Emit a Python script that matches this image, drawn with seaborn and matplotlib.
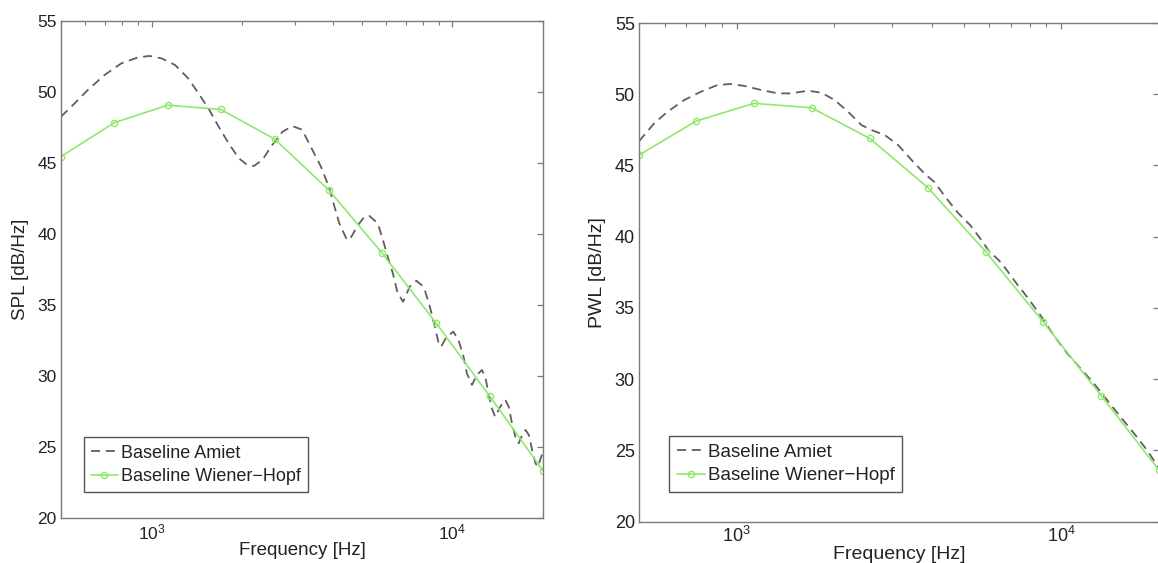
import seaborn as sns
import pandas as pd
import matplotlib.pyplot as plt
from matplotlib.ticker import LogLocator, LogFormatterSciNotation, NullFormatter

# Wiener-Hopf band centres (Hz), shared by both panels
wh_freq = [500, 750, 1130, 1700, 2570, 3880, 5850, 8810, 13300, 20000]
spl_wh = [45.45, 47.83, 49.07, 48.77, 46.67, 43.10, 38.63, 33.75, 28.58, 23.33]
pwl_wh = [45.73, 48.12, 49.36, 49.05, 46.90, 43.45, 38.95, 34.00, 28.82, 23.62]

# Amiet curve, SPL panel
spl_amiet_freq = [500, 555, 614, 698, 794, 902, 986, 1079, 1197, 1324,
                  1432, 1545, 1671, 1803, 1950, 2080, 2188, 2333, 2518, 2723,
                  2938, 3162, 3381, 3656, 3899, 4055, 4207, 4436, 4550, 4853,
                  5105, 5297, 5649, 5875, 6095, 6339, 6577, 6855, 7211, 7586,
                  7889, 8091, 8414, 8710, 8974, 9162, 9572, 10069, 10471, 10889,
                  11169, 11614, 12050, 12531, 12853, 13183, 13521, 13868, 14421, 14997,
                  15382, 15776, 16181, 16596, 17061, 17498, 17947, 18408, 18880, 19231,
                  19907, 20000]
spl_amiet = [48.26, 49.20, 50.14, 51.20, 52.02, 52.44, 52.54, 52.37, 51.90, 50.96,
             49.90, 48.85, 47.56, 46.39, 45.33, 44.86, 44.79, 45.21, 46.27, 47.20,
             47.60, 47.35, 46.15, 44.74, 43.22, 41.92, 40.75, 39.70, 39.58, 40.63,
             41.22, 41.27, 40.75, 39.58, 38.40, 37.23, 35.82, 35.23, 36.29, 36.71,
             36.41, 36.06, 34.88, 33.60, 32.42, 32.06, 32.77, 33.12, 32.54, 31.36,
             30.19, 29.37, 30.07, 30.42, 29.95, 28.78, 27.72, 27.13, 27.84, 28.31,
             27.84, 26.67, 25.73, 25.26, 25.85, 26.20, 25.85, 24.79, 23.85, 23.61,
             24.56, 24.50]

# Amiet curve, PWL panel
pwl_amiet_freq = [500, 557, 612, 689, 776, 873, 962, 1057, 1189, 1340,
                  1472, 1656, 1824, 2004, 2203, 2421, 2600, 2858, 3141, 3459,
                  3802, 4083, 4385, 4819, 5236, 5623, 5957, 6561, 7211, 7834,
                  8610, 9462, 10423, 11455, 12589, 13836, 15205, 16749, 18408, 20000]
pwl_amiet = [46.70, 47.96, 48.77, 49.59, 50.18, 50.65, 50.72, 50.58, 50.30, 50.06,
             50.06, 50.25, 50.11, 49.59, 48.77, 47.84, 47.49, 47.14, 46.44, 45.38,
             44.40, 43.80, 42.81, 41.64, 40.82, 39.89, 39.07, 38.13, 36.84, 35.79,
             34.51, 33.10, 31.82, 30.76, 29.71, 28.54, 27.37, 26.20, 25.00, 23.75]

y_ticks = [20, 25, 30, 35, 40, 45, 50, 55]

GREEN = '#8fe86c'
GREY = '#5f5f5f'
SPINE = '#7a7a7a'
TEXT = '#222222'


def style_axes(ax, fs):
    """MATLAB-like boxed axes with inward ticks on all sides."""
    ax.set_xscale('log')
    ax.set_xlim(500, 20000)
    ax.set_ylim(20, 55)
    ax.set_yticks(y_ticks)
    ax.xaxis.set_major_locator(LogLocator(base=10, numticks=10))
    ax.xaxis.set_major_formatter(LogFormatterSciNotation())
    ax.xaxis.set_minor_locator(LogLocator(base=10, subs=range(2, 10), numticks=10))
    ax.xaxis.set_minor_formatter(NullFormatter())
    for s in ax.spines.values():
        s.set_visible(True)
        s.set_color(SPINE)
        s.set_linewidth(1.0)
    ax.tick_params(which='both', direction='in', top=True, right=True,
                   color=SPINE, labelcolor=TEXT, labelsize=fs)
    ax.tick_params(which='major', length=4.5, width=0.9, pad=3)
    ax.tick_params(which='minor', length=3, width=0.8)
    ax.grid(False)


def create_panel(ax, amiet_f, amiet_v, wh_v, ylabel, fs, leg_xy):
    sns.lineplot(x=amiet_f, y=amiet_v, ax=ax, color=GREY, linewidth=1.3,
                 linestyle=(0, (5, 3.2)), label='Baseline Amiet')
    sns.lineplot(x=wh_freq, y=wh_v, ax=ax, color=GREEN, linewidth=1.2,
                 marker='o', markersize=4.5, markerfacecolor='none',
                 markeredgecolor=GREEN, markeredgewidth=1.0,
                 label='Baseline Wiener\u2212Hopf')
    style_axes(ax, fs)
    ax.set_xlabel('Frequency [Hz]', fontsize=fs + 1, color=TEXT, labelpad=0)
    ax.set_ylabel(ylabel, fontsize=fs + 1, color=TEXT, labelpad=6)
    leg = ax.legend(loc='lower left', bbox_to_anchor=leg_xy, borderaxespad=0,
                    fontsize=fs + 0.5, frameon=True, fancybox=False,
                    framealpha=1, edgecolor='#555555', handlelength=1.5,
                    handletextpad=0.15, borderpad=0.4, labelspacing=0.35)
    leg.get_frame().set_linewidth(1.0)
    for t in leg.get_texts():
        t.set_color(TEXT)


def main():
    sns.set_style('white')
    plt.rcParams['font.family'] = ['Liberation Sans', 'DejaVu Sans']
    plt.rcParams['mathtext.fontset'] = 'custom'
    plt.rcParams['mathtext.rm'] = 'Liberation Sans'

    fig = plt.figure(figsize=(11.58, 5.63), dpi=100)
    ax1 = fig.add_axes([61 / 1158, 45 / 563, 482 / 1158, 497 / 563])
    ax2 = fig.add_axes([639 / 1158, 41.3 / 563, 520 / 1158, 498.7 / 563])

    create_panel(ax1, spl_amiet_freq, spl_amiet, spl_wh, 'SPL [dB/Hz]', 12.5, (0.047, 0.052))
    create_panel(ax2, pwl_amiet_freq, pwl_amiet, pwl_wh, 'PWL [dB/Hz]', 13, (0.058, 0.060))

    fig.savefig('out.png', dpi=100)


if __name__ == '__main__':
    main()
